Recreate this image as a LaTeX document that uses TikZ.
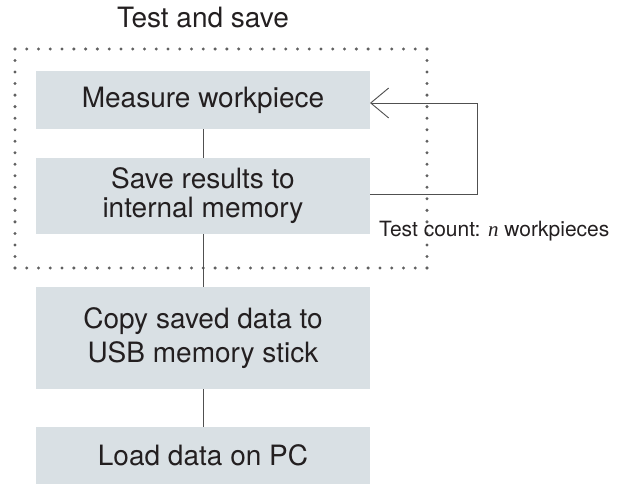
\documentclass[tikz,border=0pt]{standalone}
\usepackage{fontspec}
\setmainfont{TeX Gyre Heros}
\newfontfamily\serifn{Liberation Serif}
\usetikzlibrary{arrows.meta}
\definecolor{boxfill}{HTML}{D9E0E4}
\definecolor{linegray}{HTML}{505050}
\definecolor{dotgray}{HTML}{606060}
\definecolor{txt}{HTML}{231F20}
\begin{document}
\begin{tikzpicture}[x=1pt,y=-1pt,
  stepbox/.style={fill=boxfill,draw=none,minimum width=334pt,inner sep=0pt,
    align=center,font=\fontsize{28}{33}\selectfont,text=txt},
  conn/.style={draw=linegray,line width=0.9pt},
  dotline/.style={draw=dotgray,line width=3.3pt,line cap=round}]
\useasboundingbox (0,0) rectangle (625,484);
% title
\node[anchor=base,font=\fontsize{28}{33}\selectfont,text=txt] (title) at (203,28) {Test and save};
% dotted frame
\coordinate (d1) at (15,49);
\coordinate (d2) at (427,49);
\coordinate (d3) at (427,268);
\coordinate (d4) at (15,268);
\draw[dotline,dash pattern=on 0pt off 11.771pt] (d1) -- (d2);
\draw[dotline,dash pattern=on 0pt off 11.771pt] (d4) -- (d3);
\draw[dotline,dash pattern=on 0pt off 11.526pt] (d1) -- (d4);
\draw[dotline,dash pattern=on 0pt off 11.526pt] (d2) -- (d3);
% boxes
\node[stepbox,minimum height=58pt] (m) at (203,100) {Measure workpiece};
\node[stepbox,minimum height=76pt,font=\fontsize{28}{29}\selectfont] (s) at (203,196) {Save results to\\internal memory};
\node[stepbox,minimum height=102pt,font=\fontsize{28}{34}\selectfont] (c) at (203,338) {Copy saved data to\\USB memory stick};
\node[stepbox,minimum height=57pt] (l) at (203,455.5) {Load data on PC};
% connectors
\draw[conn] (m.south) -- (s.north);
\draw[conn] (s.south) -- (c.north);
\draw[conn] (c.south) -- (l.north);
% loop
\coordinate (lp1) at (477,194);
\coordinate (lp2) at (477,103);
\coordinate (sE) at (370,194);
\coordinate (mE) at (370,103);
\draw[conn,-{Straight Barb[length=18pt,width=30pt,line width=0.9pt]}] (sE) -- (lp1) -- (lp2) -- (mE);
% label
\node[anchor=base west,inner sep=0pt,font=\fontsize{21}{25}\selectfont,text=txt] (lab) at (379,237) {Test count: {\serifn\itshape n} workpieces};
\end{tikzpicture}
\end{document}
